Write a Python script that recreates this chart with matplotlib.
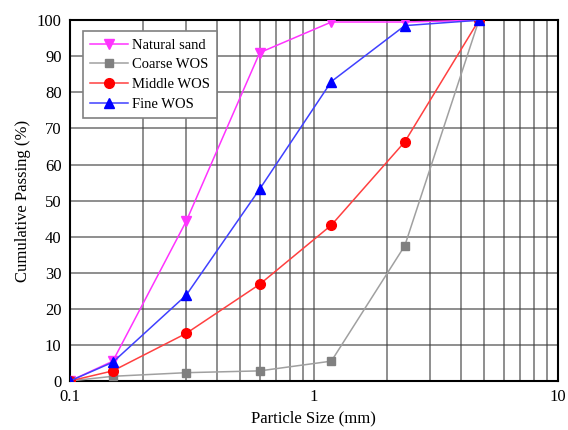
import matplotlib.pyplot as plt
from matplotlib.ticker import LogLocator, NullFormatter, FixedLocator, FixedFormatter

plt.rcParams['font.family'] = ['Liberation Serif', 'DejaVu Serif']

# Sieve sizes (mm) and cumulative passing (%)
sizes = [0.1, 0.15, 0.3, 0.6, 1.18, 2.36, 4.75]
natural_sand = [0, 5.5, 44.3, 91.0, 99.5, 99.5, 100]
coarse_wos = [0, 1.3, 2.3, 2.8, 5.5, 37.5, 100]
middle_wos = [0, 2.8, 13.2, 26.8, 43.2, 66.3, 100]
fine_wos = [0, 5.2, 23.8, 53.2, 83.0, 98.5, 100]

fig = plt.figure(figsize=(5.68, 4.3), dpi=100)
ax = fig.add_axes([0.123, 0.114, 0.859, 0.839])

ax.plot(sizes, natural_sand, color='#ff33ff', marker='v', markersize=7, lw=1.1,
        label='Natural sand', zorder=3)
ax.plot(sizes, coarse_wos, color='#a0a0a0', marker='s', markersize=6, lw=1.1,
        markerfacecolor='#808080', markeredgecolor='#808080', label='Coarse WOS', zorder=3)
ax.plot(sizes, middle_wos, color='#ff4040', marker='o', markersize=7, lw=1.1,
        markerfacecolor='red', markeredgecolor='red', label='Middle WOS', zorder=3)
ax.plot(sizes, fine_wos, color='#4040ff', marker='^', markersize=7, lw=1.1,
        markerfacecolor='blue', markeredgecolor='blue', label='Fine WOS', zorder=3)

ax.set_xscale('log')
ax.set_xlim(0.1, 10)
ax.set_ylim(0, 100)
ax.xaxis.set_major_locator(FixedLocator([0.1, 1, 10]))
ax.xaxis.set_major_formatter(FixedFormatter(['0.1', '1', '10']))
ax.xaxis.set_minor_locator(LogLocator(base=10, subs=range(2, 10)))
ax.xaxis.set_minor_formatter(NullFormatter())
ax.set_yticks(range(0, 101, 10))

ax.grid(True, which='both', axis='x', color='#404040', lw=1.1, alpha=0.75)
ax.grid(True, which='major', axis='y', color='#404040', lw=1.1, alpha=0.75)
ax.tick_params(which='both', length=0, labelsize=12, pad=6)
for s in ax.spines.values():
    s.set_linewidth(1.5)
    s.set_color('black')

ax.set_xlabel('Particle Size (mm)', fontsize=12)
ax.set_ylabel('Cumulative Passing (%)', fontsize=12)

leg = ax.legend(loc='upper left', bbox_to_anchor=(0.012, 0.99), fontsize=10.5,
                handlelength=2.6, handletextpad=0.25, fancybox=False, framealpha=1,
                borderpad=0.5, labelspacing=0.45)
leg.get_frame().set_edgecolor('#808080')
leg.get_frame().set_linewidth(1.2)

fig.savefig('out.png', dpi=100)
